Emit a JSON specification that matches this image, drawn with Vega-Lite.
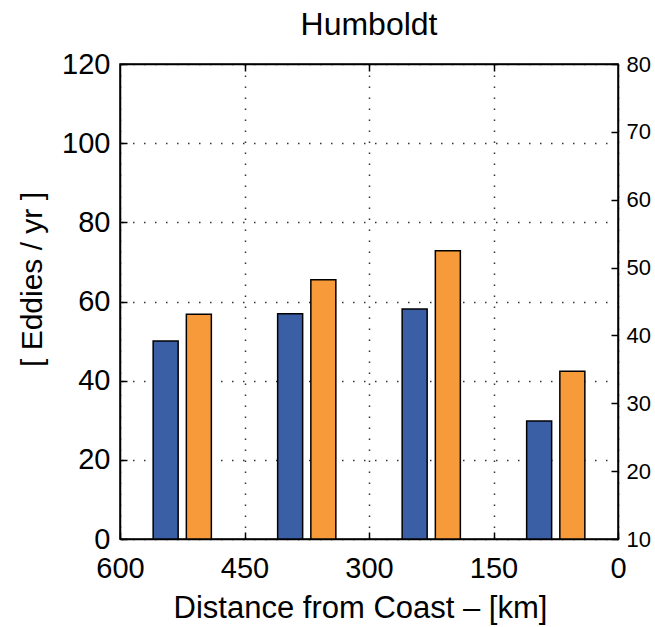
{
  "$schema": "https://vega.github.io/schema/vega-lite/v6.json",
  "width": 498,
  "height": 475,
  "autosize": {"type": "none"},
  "padding": {"left": 120, "top": 64, "right": 37, "bottom": 88},
  "background": "white",
  "title": {"text": "Humboldt", "fontSize": 32, "font": "Liberation Sans", "fontWeight": "normal", "color": "black", "offset": 8},
  "data": {"values": [
    {"km": 545, "eddies": 50.0, "series": "A"},
    {"km": 395, "eddies": 56.9, "series": "A"},
    {"km": 245, "eddies": 58.1, "series": "A"},
    {"km": 95, "eddies": 29.8, "series": "A"},
    {"km": 505, "eddies": 56.8, "series": "B"},
    {"km": 355, "eddies": 65.5, "series": "B"},
    {"km": 205, "eddies": 72.8, "series": "B"},
    {"km": 55, "eddies": 42.4, "series": "B"}
  ]},
  "layer": [
    {
      "mark": {"type": "bar", "width": 25, "stroke": "black", "strokeWidth": 1.5},
      "encoding": {
        "x": {"field": "km", "type": "quantitative", "scale": {"domain": [0, 600], "reverse": true, "nice": false, "padding": 0},
          "axis": {"values": [0, 150, 300, 450, 600], "title": "Distance from Coast – [km]", "grid": true,
            "tickSize": -7, "labelPadding": 22, "labelFontSize": 29, "titleFontSize": 31,
            "titleX": 240, "titleY": 78, "titleBaseline": "alphabetic"}},
        "y": {"field": "eddies", "type": "quantitative", "scale": {"domain": [0, 120], "nice": false, "padding": 0},
          "axis": {"values": [0, 20, 40, 60, 80, 100, 120], "title": "[ Eddies / yr ]", "grid": true,
            "tickSize": -7, "labelPadding": 17, "labelFontSize": 29, "titleFontSize": 30,
            "titleX": -88, "titleY": 215, "titleAngle": 270, "titleBaseline": "middle", "titleAlign": "center"}},
        "color": {"field": "series", "type": "nominal", "scale": {"domain": ["A", "B"], "range": ["#3A5FA5", "#F79B3A"]}, "legend": null}
      }
    },
    {
      "mark": {"type": "point", "opacity": 0},
      "encoding": {
        "x": {"field": "km", "type": "quantitative",
          "axis": {"orient": "top", "labels": false, "title": null, "grid": false, "values": [150, 300, 450], "tickSize": -7}},
        "y": {"field": "eddies", "type": "quantitative", "scale": {"domain": [10, 80], "nice": false, "padding": 0},
          "axis": {"orient": "right", "values": [10, 20, 30, 40, 50, 60, 70, 80], "title": null, "grid": false,
            "tickSize": -7, "labelPadding": 15, "labelFontSize": 22}}
      }
    }
  ],
  "resolve": {"scale": {"y": "independent"}, "axis": {"x": "independent", "y": "independent"}},
  "config": {
    "font": "Liberation Sans",
    "view": {"stroke": "black", "strokeWidth": 1.5},
    "axis": {
      "labelFont": "Liberation Sans", "titleFont": "Liberation Sans", "labelColor": "black", "titleColor": "black",
      "titleFontWeight": "normal", "domainColor": "black", "domainWidth": 1.5, "tickColor": "black", "tickWidth": 1.5,
      "gridColor": "#333333", "gridDash": [1.5, 9.5], "gridWidth": 1.5, "labelOverlap": false, "labelFlush": false
    }
  }
}
